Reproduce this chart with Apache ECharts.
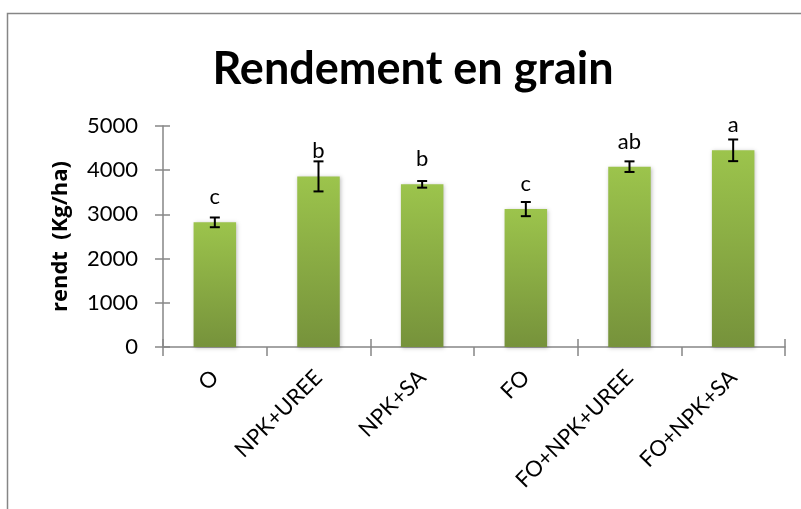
<!DOCTYPE html>
<html>
<head>
<meta charset="utf-8">
<script src="https://cdn.jsdelivr.net/npm/echarts@6/dist/echarts.min.js"></script>
<style>
  html, body { margin: 0; padding: 0; background: #fff; }
  #chart { width: 801px; height: 509px; }
</style>
</head>
<body>
<div id="chart"></div>
<script>
    // traitements
    var categories = ['O', 'NPK+UREE', 'NPK+SA', 'FO', 'FO+NPK+UREE', 'FO+NPK+SA'];
    // rendement moyen (Kg/ha)
    var rendement = [2820, 3860, 3680, 3120, 4080, 4450];
    // erreur standard
    var erreurs = [110, 340, 75, 160, 120, 245];
    // lettres de signification
    var lettres = ['c', 'b', 'b', 'c', 'ab', 'a'];
    var yTicks = [0, 1000, 2000, 3000, 4000, 5000];

    var font = 'Lato, "Open Sans", sans-serif';
    var gris = '#868686';

    var chart = echarts.init(document.getElementById('chart'));

    var option = {
        animation: false,
        title: {
            text: 'Rendement en grain',
            left: 408,
            top: 42,
            textAlign: 'center',
            textStyle: {
                fontFamily: font,
                fontSize: 45,
                fontWeight: 'bold',
                color: '#000'
            }
        },
        graphic: [{
            type: 'rect',
            shape: { x: 7.5, y: 13.5, width: 800, height: 600 },
            style: { fill: 'none', stroke: gris, lineWidth: 1.5 },
            silent: true
        }],
        grid: {
            left: 163,
            right: 16,
            top: 126,
            bottom: 162
        },
        xAxis: [{
            type: 'category',
            data: categories,
            axisLine: { lineStyle: { color: gris, width: 1.5 } },
            axisTick: { show: true, length: 9, lineStyle: { color: gris, width: 1.5 } },
            axisLabel: {
                rotate: 45,
                fontFamily: font,
                fontSize: 22,
                color: '#000',
                margin: 27
            }
        }, {
            // ticks vers l'intérieur (croisés)
            type: 'category',
            data: categories,
            position: 'bottom',
            axisLine: { show: false },
            axisTick: { show: true, inside: true, length: 8, lineStyle: { color: gris, width: 1.5 } },
            axisLabel: { show: false }
        }],
        yAxis: [{
            type: 'value',
            min: yTicks[0],
            max: yTicks[yTicks.length - 1],
            interval: 1000,
            name: 'rendt  (Kg/ha)',
            nameLocation: 'middle',
            nameGap: 91,
            nameRotate: 90,
            nameTextStyle: {
                fontFamily: '"Open Sans", sans-serif',
                fontSize: 22,
                fontWeight: 'bold',
                color: '#000'
            },
            axisLine: { show: true, lineStyle: { color: gris, width: 1.5 } },
            axisTick: { show: true, length: 8, lineStyle: { color: gris, width: 1.5 } },
            splitLine: { show: false },
            axisLabel: {
                fontFamily: font,
                fontSize: 22,
                color: '#000',
                margin: 25,
                formatter: function (v) { return String(v); }
            }
        }, {
            type: 'value',
            min: yTicks[0],
            max: yTicks[yTicks.length - 1],
            interval: 1000,
            position: 'left',
            axisLine: { show: false },
            axisTick: { show: true, inside: true, length: 7, lineStyle: { color: gris, width: 1.5 } },
            splitLine: { show: false },
            axisLabel: { show: false }
        }],
        series: [
            {
                type: 'bar',
                data: rendement,
                barWidth: '41%',
                itemStyle: {
                    color: new echarts.graphic.LinearGradient(0, 0, 0, 1, [
                        { offset: 0, color: '#9cc44c' },
                        { offset: 1, color: '#76923b' }
                    ]),
                    shadowColor: 'rgba(0,0,0,0.25)',
                    shadowBlur: 4,
                    shadowOffsetX: 1,
                    shadowOffsetY: 1
                }
            },
            {
                type: 'custom',
                data: rendement.map(function (v, i) { return [i, v, erreurs[i]]; }),
                renderItem: function (params, api) {
                    var i = api.value(0);
                    var v = api.value(1);
                    var e = api.value(2);
                    var top = api.coord([i, v + e]);
                    var bot = api.coord([i, v - e]);
                    var barTop = api.coord([i, v]);
                    var x = top[0];
                    var cap = 5;
                    var st = { stroke: '#000', lineWidth: 2 };
                    return {
                        type: 'group',
                        children: [
                            { type: 'line', shape: { x1: x, y1: top[1], x2: x, y2: bot[1] }, style: st },
                            { type: 'line', shape: { x1: x - cap, y1: top[1], x2: x + cap, y2: top[1] }, style: st },
                            { type: 'line', shape: { x1: x - cap, y1: bot[1], x2: x + cap, y2: bot[1] }, style: st },
                            {
                                type: 'text',
                                style: {
                                    text: lettres[params.dataIndex],
                                    x: x,
                                    y: barTop[1] - 14,
                                    align: 'center',
                                    verticalAlign: 'bottom',
                                    font: '22px ' + font,
                                    fill: '#000'
                                }
                            }
                        ]
                    };
                },
                z: 10
            }
        ]
    };

    chart.setOption(option);
</script>
</body>
</html>
